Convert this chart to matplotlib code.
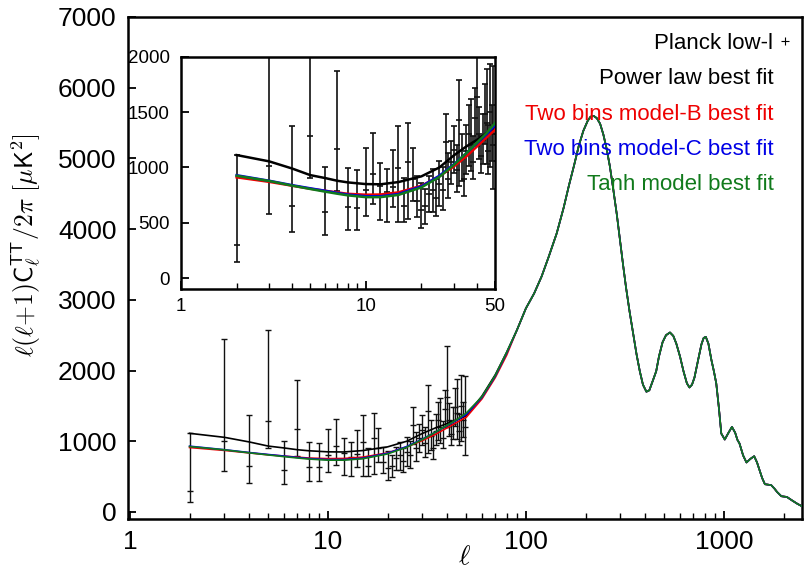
import matplotlib
matplotlib.use("Agg")
import matplotlib.pyplot as plt
from matplotlib.lines import Line2D
from matplotlib.ticker import LogLocator, FixedLocator, NullFormatter
import numpy as np

plt.rcParams.update({
    "font.family": ["Liberation Sans", "DejaVu Sans"],
    "mathtext.fontset": "cm",
    "axes.linewidth": 1.8,
    "xtick.direction": "in",
    "ytick.direction": "in",
})

# ---- Planck low-l data (l, D_l, lower, upper) ----
ell_data = np.arange(2, 50)
d_data = [300, 1010, 650, 1286, 600, 1166, 640, 634, 800, 938,
          835, 780, 823, 992, 655, 1046, 900, 700, 620, 650,
          760, 800, 720, 850, 800, 1230, 900, 1050, 1160, 980,
          1430, 1080, 900, 1150, 1300, 1200, 1050, 1450, 1632, 1300,
          1100, 1250, 1480, 1400, 1150, 1500, 1300, 1200]
d_low = [145, 580, 415, 907, 390, 787, 435, 433, 565, 667,
         528, 505, 640, 505, 505, 535, 700, 550, 451, 490,
         595, 600, 560, 650, 620, 960, 720, 850, 950, 780,
         835, 880, 745, 940, 1015, 970, 900, 1200, 1196, 1076,
         950, 1030, 1210, 1031, 940, 1000, 1060, 805]
d_high = [1110, 2450, 1370, 2570, 1000, 1869, 994, 979, 1175, 1310,
          1040, 985, 1160, 1370, 905, 1400, 1180, 925, 860, 805,
          925, 985, 900, 1060, 1000, 1481, 1130, 1241, 1376, 1200,
          1791, 1300, 1100, 1380, 1560, 1617, 1280, 1720, 2349, 1545,
          1286, 1480, 1750, 1887, 1380, 1932, 1560, 1917]

# ---- best-fit spectra at low l (model specific) ----
ell_low = [2, 3, 4, 5, 6, 7, 8, 10, 12, 15, 20, 25, 30, 35, 40, 45, 50, 60, 70, 80]
d_power = [1112, 1055, 990, 931, 905, 880, 865, 850, 848, 868, 920, 1000,
           1110, 1190, 1250, 1310, 1360, 1640, 1940, 2260]
d_model_b = [911, 870, 835, 808, 790, 775, 762, 754, 756, 775, 835, 920,
             1010, 1100, 1190, 1270, 1340, 1600, 1900, 2220]
d_model_c = [930, 880, 840, 812, 790, 770, 755, 740, 740, 760, 830, 925,
             1030, 1130, 1220, 1300, 1380, 1620, 1920, 2250]
d_tanh = [925, 878, 836, 806, 782, 763, 748, 732, 732, 752, 820, 915,
          1025, 1130, 1225, 1310, 1400, 1630, 1930, 2260]

# ---- common high-l part (all models coincide) ----
ell_high = [90, 100, 110, 120, 130, 143, 155, 165, 175, 185, 195, 205, 212,
            220, 228, 237, 246, 255, 265, 275, 288, 300, 310, 320, 334, 348,
            362, 376, 390, 406, 420, 438, 455, 470, 490, 510, 534, 555, 575,
            600, 625, 650, 670, 690, 710, 741, 770, 790, 810, 835, 865, 890,
            915, 945, 970, 1010, 1050, 1098, 1140, 1170, 1199, 1250, 1300,
            1360, 1422, 1470, 1514, 1560, 1611, 1680, 1735, 1800, 1855, 1951,
            2079, 2200, 2350, 2480]
d_high_common = [2570, 2880, 3090, 3330, 3600, 3939, 4300, 4620, 4900, 5180,
                 5390, 5530, 5590, 5600, 5570, 5490, 5340, 5150, 4900, 4600,
                 4200, 3800, 3480, 3184, 2830, 2524, 2230, 1990, 1800, 1700,
                 1720, 1860, 1990, 2200, 2400, 2500, 2538, 2490, 2380, 2200,
                 1990, 1820, 1760, 1800, 1900, 2150, 2370, 2460, 2477, 2380,
                 2147, 1990, 1817, 1450, 1109, 1024, 1110, 1203, 1120, 1020,
                 968, 800, 699, 750, 788, 700, 590, 480, 392, 385, 378, 330,
                 283, 222, 212, 166, 115, 80]

MODELS = [
    (d_power, "black", "Power law best fit"),
    (d_model_b, "#ee0000", "Two bins model-B best fit"),
    (d_model_c, "#0000e6", "Two bins model-C best fit"),
    (d_tanh, "#117a1c", "Tanh model best fit"),
]


def draw_data(ax, lw, cap, ms):
    yerr = [np.array(d_data) - np.array(d_low), np.array(d_high) - np.array(d_data)]
    ax.errorbar(ell_data, d_data, yerr=yerr, fmt="_", color="#111111",
                ecolor="#111111", elinewidth=lw, capsize=cap, capthick=lw,
                markersize=ms, markeredgewidth=lw, zorder=2)


fig = plt.figure(figsize=(8.09, 5.71), dpi=100)
ax = fig.add_axes([127.7 / 809, 52 / 571, 674.3 / 809, 502 / 571])

draw_data(ax, 1.0, 2.5, 5)
for d, c, _ in MODELS:
    ax.plot(ell_low + ell_high, d + d_high_common, color=c, lw=1.2, zorder=3)

ax.set_xscale("log")
ax.set_xlim(0.974, 2480)
ax.set_ylim(-100, 7000)
ax.set_yticks(range(0, 7001, 1000))
ax.xaxis.set_major_locator(FixedLocator([1, 10, 100, 1000]))
ax.set_xticklabels(["1", "10", "100", "1000"])
ax.xaxis.set_minor_locator(LogLocator(base=10, subs=np.arange(2, 10)))
ax.xaxis.set_minor_formatter(NullFormatter())
ax.tick_params(which="major", length=6, width=1.3, labelsize=19, pad=8,
               top=False, right=False)
ax.tick_params(which="minor", length=4, width=1.0, top=False, right=False)
ax.set_xlabel(r"$\ell$", fontsize=20, labelpad=-7)
ax.set_ylabel(r"$\ell\mathsf{(}\ell\mathsf{+1)C}_\ell^{\mathsf{TT}}\mathsf{/2}\pi\ "
              r"\mathsf{[}\mu\mathsf{K}^\mathsf{2}\mathsf{]}$", fontsize=18.5,
              labelpad=6)
ax.yaxis.set_label_coords(-0.125, 0.546)

handles = [Line2D([], [], color="black", marker="+", markersize=6,
                  markeredgewidth=0.8, lw=0)]
labels = ["Planck low-l"]
for d, c, lab in MODELS:
    handles.append(Line2D([], [], color="none", lw=0))
    labels.append(lab)
leg = ax.legend(handles, labels, loc="upper right", bbox_to_anchor=(0.984, 0.968),
                frameon=False, markerfirst=False, fontsize=16, handlelength=0.6,
                handletextpad=0.2, labelspacing=0.645, borderpad=0, borderaxespad=0)
for t, col in zip(leg.get_texts(), ["black"] + [m[1] for m in MODELS]):
    t.set_color(col)

# ---- inset ----
ins = fig.add_axes([181 / 809, 281.7 / 571, 314 / 809, 232.6 / 571])
draw_data(ins, 1.2, 2.5, 5)
for d, c, _ in MODELS:
    ins.plot(ell_low, d, color=c, lw=1.8, zorder=3)
ins.set_xscale("log")
ins.set_xlim(1, 50)
ins.set_ylim(-100, 2000)
ins.set_yticks([0, 500, 1000, 1500, 2000])
ins.xaxis.set_major_locator(FixedLocator([1, 10, 50]))
ins.set_xticklabels(["1", "10", "50"])
ins.xaxis.set_minor_locator(LogLocator(base=10, subs=np.arange(2, 10)))
ins.xaxis.set_minor_formatter(NullFormatter())
ins.tick_params(which="major", length=6, width=1.3, labelsize=13.5, pad=6,
                top=False, right=False)
ins.tick_params(axis="y", which="major", pad=8)
ins.tick_params(which="minor", length=4, width=1.0, top=False, right=False)

fig.savefig("out.png", dpi=100)
